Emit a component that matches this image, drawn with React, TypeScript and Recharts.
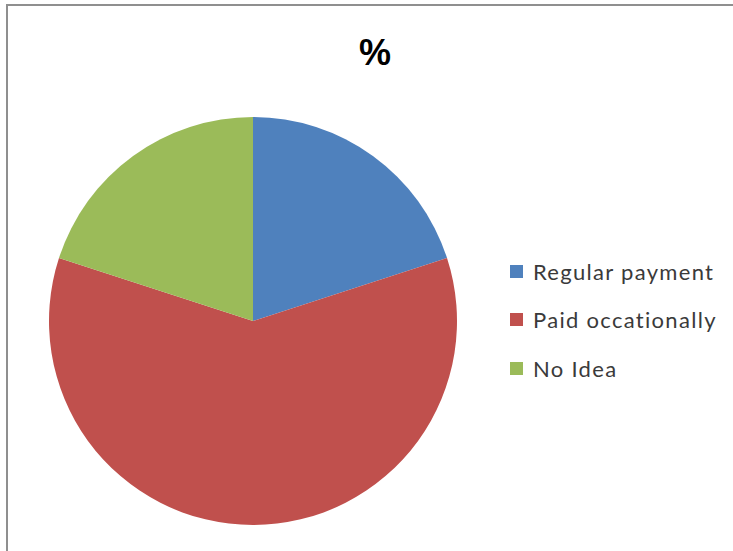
import { Cell, Legend, Pie, PieChart } from "recharts"

const categories = ["Regular payment", "Paid occationally", "No Idea"]
const values = [20, 60, 20]
const colors = ["#4F81BD", "#C0504D", "#9BBB59"]

const data = categories.map((name, i) => ({ name, value: values[i], color: colors[i] }))

function LegendBox() {
  return (
    <div style={{ fontFamily: "Lato, 'Open Sans', sans-serif", fontSize: 22, letterSpacing: 1.3, color: "#3a3a3a" }}>
      {data.map((d) => (
        <div key={d.name} style={{ display: "flex", alignItems: "center", height: 48.5 }}>
          <span style={{ width: 13, height: 13, background: d.color, marginRight: 10, display: "inline-block" }} />
          <span>{d.name}</span>
        </div>
      ))}
    </div>
  )
}

export default function App() {
  return (
    <div style={{ position: "absolute", left: 0, top: 0, width: 733, height: 551, overflow: "hidden", background: "#fff" }}>
      <div
        style={{
          position: "absolute",
          left: 6,
          top: 4,
          width: 760,
          height: 580,
          border: "2px solid #8f8f8f",
          boxSizing: "border-box",
        }}
      />
      <PieChart width={733} height={551} style={{ position: "absolute", left: 0, top: 0 }}>
        <text
          x={375}
          y={65}
          textAnchor="middle"
          style={{ fontFamily: "Arial, 'Liberation Sans', sans-serif", fontSize: 36, fontWeight: "bold", fill: "#000" }}
        >
          %
        </text>
        <Pie
          data={data}
          dataKey="value"
          nameKey="name"
          cx={248}
          cy={316}
          outerRadius={204}
          startAngle={90}
          endAngle={-270}
          stroke="none"
          isAnimationActive={false}
        >
          {data.map((entry, index) => (
            <Cell key={`cell-${index}`} fill={entry.color} />
          ))}
        </Pie>
        <Legend
          layout="vertical"
          content={() => <LegendBox />}
          wrapperStyle={{ position: "absolute", left: 510, top: 247, width: 222 }}
        />
      </PieChart>
    </div>
  )
}
